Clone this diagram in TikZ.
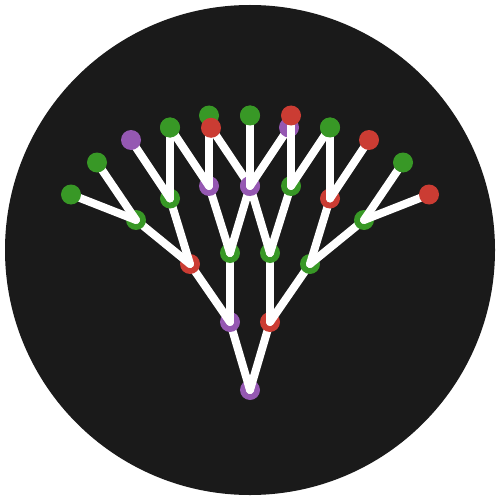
\documentclass[tikz,border=0pt]{standalone}
\definecolor{jgreen}{HTML}{389826}
\definecolor{jred}{HTML}{CB3C33}
\definecolor{jpurple}{HTML}{9558B2}
\definecolor{bgdark}{HTML}{1A1A1A}
\begin{document}
\begin{tikzpicture}[x=1pt,y=-1pt,
  vtx/.style={circle, inner sep=0pt, minimum size=20pt, draw=none},
  vg/.style={vtx, fill=jgreen},
  vr/.style={vtx, fill=jred},
  vp/.style={vtx, fill=jpurple},
  ln/.style={white, line width=8pt, line cap=round}]
\useasboundingbox (0,0) rectangle (500,500);
\fill[white] (0,0) rectangle (500,500);
\fill[bgdark] (250,250) circle[radius=245];
% positions
\coordinate (r) at (250,390);
\coordinate (a1) at (230,322);
\coordinate (a2) at (270,322);
\coordinate (b1) at (190,264);
\coordinate (b2) at (230,253);
\coordinate (b3) at (270,253);
\coordinate (b4) at (310,264);
\coordinate (c1) at (136,220);
\coordinate (c2) at (170,198.5);
\coordinate (c3) at (209,186);
\coordinate (c4) at (250,186);
\coordinate (c5) at (250,186);
\coordinate (c6) at (291,186);
\coordinate (c7) at (330,198.5);
\coordinate (c8) at (364,220);
\coordinate (d1) at (71,194.5);
\coordinate (d2) at (97,162.5);
\coordinate (d3) at (131,140);
\coordinate (d4) at (170,127.5);
\coordinate (d5) at (170,127.5);
\coordinate (d6) at (209,115.5);
\coordinate (d7) at (211,127.8);
\coordinate (d8) at (250,115.5);
\coordinate (d9) at (250,115.5);
\coordinate (d10) at (289,127.5);
\coordinate (d11) at (291,115.5);
\coordinate (d12) at (330,127.5);
\coordinate (d13) at (330,127.5);
\coordinate (d14) at (369,140);
\coordinate (d15) at (403,162.5);
\coordinate (d16) at (429,194.5);
% drawing in depth-first order
\node[vp] (nr) at (r) {};
\draw[ln] (r) -- (a1);
\node[vp] (na1) at (a1) {};
 \draw[ln] (a1) -- (b1);
 \node[vr] (nb1) at (b1) {};
  \draw[ln] (b1) -- (c1);
  \node[vg] (nc1) at (c1) {};
   \draw[ln] (c1) -- (d1); \node[vg] (nd1) at (d1) {};
   \draw[ln] (c1) -- (d2); \node[vg] (nd2) at (d2) {};
  \draw[ln] (b1) -- (c2);
  \node[vg] (nc2) at (c2) {};
   \draw[ln] (c2) -- (d3); \node[vp] (nd3) at (d3) {};
   \draw[ln] (c2) -- (d4); \node[vg] (nd4) at (d4) {};
 \draw[ln] (a1) -- (b2);
 \node[vg] (nb2) at (b2) {};
  \draw[ln] (b2) -- (c3);
  \node[vp] (nc3) at (c3) {};
   \draw[ln] (c3) -- (d5); \node[vg] (nd5) at (d5) {};
   \draw[ln] (c3) -- (d6); \node[vg] (nd6) at (d6) {};
  \draw[ln] (b2) -- (c4);
  \node[vp] (nc4) at (c4) {};
   \draw[ln] (c4) -- (d7); \node[vr] (nd7) at (d7) {};
   \draw[ln] (c4) -- (d8); \node[vg] (nd8) at (d8) {};
\draw[ln] (r) -- (a2);
\node[vr] (na2) at (a2) {};
 \draw[ln] (a2) -- (b3);
 \node[vg] (nb3) at (b3) {};
  \draw[ln] (b3) -- (c5);
  \node[vp] (nc5) at (c5) {};
   \draw[ln] (c5) -- (d9); \node[vg] (nd9) at (d9) {};
   \draw[ln] (c5) -- (d10); \node[vp] (nd10) at (d10) {};
  \draw[ln] (b3) -- (c6);
  \node[vg] (nc6) at (c6) {};
   \draw[ln] (c6) -- (d11); \node[vr] (nd11) at (d11) {};
   \draw[ln] (c6) -- (d12); \node[vg] (nd12) at (d12) {};
 \draw[ln] (a2) -- (b4);
 \node[vg] (nb4) at (b4) {};
  \draw[ln] (b4) -- (c7);
  \node[vr] (nc7) at (c7) {};
   \draw[ln] (c7) -- (d13); \node[vg] (nd13) at (d13) {};
   \draw[ln] (c7) -- (d14); \node[vr] (nd14) at (d14) {};
  \draw[ln] (b4) -- (c8);
  \node[vg] (nc8) at (c8) {};
   \draw[ln] (c8) -- (d15); \node[vg] (nd15) at (d15) {};
   \draw[ln] (c8) -- (d16); \node[vr] (nd16) at (d16) {};
\end{tikzpicture}
\end{document}
